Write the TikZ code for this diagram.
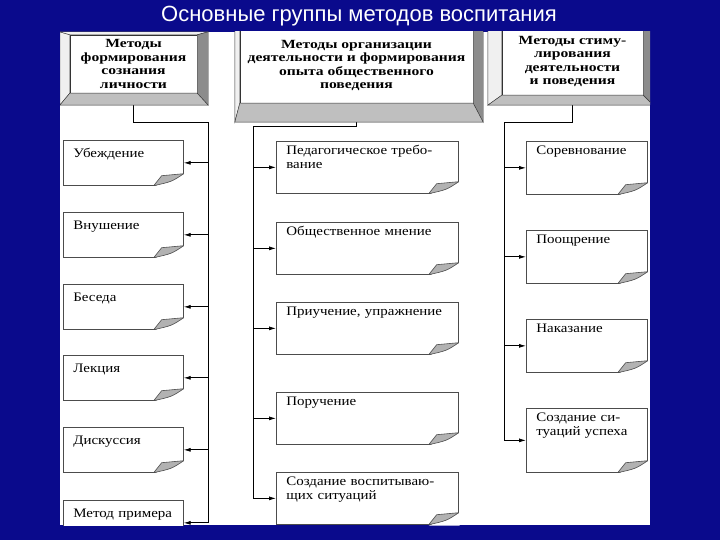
\documentclass[tikz,border=0pt]{standalone}
\usepackage{fontspec}
\setmainfont{Liberation Serif}
\newfontfamily\boxfont[FakeStretch=1.15]{Liberation Serif}
\newfontfamily\hdrfont[FakeStretch=1.25]{Liberation Serif}
\newfontfamily\titlefont{Liberation Sans}
\usetikzlibrary{arrows.meta,calc}
\definecolor{slideblue}{RGB}{10,10,140}
\tikzstyle{hdr} = [rectangle, draw=black!80, fill=white, align=center, inner sep=0pt, font={\hdrfont\bfseries\fontsize{12.5}{13.4}\selectfont}]
\tikzstyle{note} = [rectangle, draw=black!70, line width=0.7pt, fill=white, anchor=north west, align=left, inner xsep=10pt, inner ysep=0pt, font={\boxfont\fontsize{13}{14.5}\selectfont}]
\tikzstyle{tut} = [style={line width=0.8pt}]
\tikzstyle{tuh} = [style={->,>={Latex[length=7pt,width=4pt]},style={line width=0.8pt}}]
\tikzstyle{flap} = [fill=black!30, draw=black!70, line width=0.6pt, line join=round]
% raised frame round a header: node, left, top, right, bottom
\newcommand{\bevel}[5]{%
  \filldraw[draw=black!80, fill=black!6] (#1.north west) -- ($(#1.north west)+(-#2,-#3)$) -- ($(#1.south west)+(-#2,#5)$) -- (#1.south west) -- cycle;
  \filldraw[draw=black!80, fill=black!6] (#1.north west) -- ($(#1.north west)+(-#2,-#3)$) -- ($(#1.north east)+(#4,-#3)$) -- (#1.north east) -- cycle;
  \filldraw[draw=black!80, fill=black!45] (#1.north east) -- ($(#1.north east)+(#4,-#3)$) -- ($(#1.south east)+(#4,#5)$) -- (#1.south east) -- cycle;
  \filldraw[draw=black!80, fill=black!25] (#1.south west) -- ($(#1.south west)+(-#2,#5)$) -- ($(#1.south east)+(#4,#5)$) -- (#1.south east) -- cycle;}
% turned-up corner of a note
\newcommand{\curl}[1]{%
  \fill[white] ($(#1.south east)+(-30,1)$) -- ($(#1.south east)+(1,1)$) -- ($(#1.south east)+(1,-12)$) -- cycle;
  \filldraw[flap] ($(#1.south east)+(-30,0)$) -- ($(#1.south east)+(-22,-10)$) -- ($(#1.south east)+(0,-12)$) .. controls ($(#1.south east)+(-12,-4)$) .. cycle;}

\begin{document}
\begin{tikzpicture}[x=1pt,y=-1pt]
  \fill[slideblue] (0,0) rectangle (720,540);
  \node[font={\titlefont\fontsize{22}{25}\selectfont}, text=white] (title) at (359,16) {Основные группы методов воспитания};
  \fill[white] (60,32) rectangle (650,525);
  \begin{scope}
    \clip (60,32) rectangle (650,525);
    % headers
    \node[hdr, minimum width=127pt, minimum height=58pt] (hL) at (133.5,64) {Методы\\формирования\\сознания\\личности};
    \node[hdr, minimum width=233pt, minimum height=75pt] (hM) at (356.5,65.5) {Методы организации\\деятельности и формирования\\опыта общественного\\поведения};
    \node[hdr, minimum width=141pt, minimum height=67pt] (hR) at (572.5,61.5) {Методы стиму-\\лирования\\деятельности\\и поведения};
    % left column
    \node[note, text width=100pt, text height=17pt, text depth=28pt] (l1) at (63,140) {Убеждение};
    \node[note, text width=100pt, text height=17pt, text depth=28pt] (l2) at (63,212) {Внушение};
    \node[note, text width=100pt, text height=17pt, text depth=28pt] (l3) at (63,284) {Беседа};
    \node[note, text width=100pt, text height=17pt, text depth=28pt] (l4) at (63,355) {Лекция};
    \node[note, text width=100pt, text height=17pt, text depth=28pt] (l5) at (63,427) {Дискуссия};
    \node[note, text width=100pt, text height=17pt, text depth=28pt] (l6) at (63,500) {Метод примера};
    % middle column
    \node[note, text width=162pt, text height=13pt, text depth=39pt] (m1) at (276,141) {Педагогическое требо-\\вание};
    \node[note, text width=162pt, text height=13pt, text depth=39pt] (m2) at (276,222) {Общественное мнение};
    \node[note, text width=162pt, text height=13pt, text depth=39pt] (m3) at (276,302) {Приучение, упражнение};
    \node[note, text width=162pt, text height=13pt, text depth=39pt] (m4) at (276,392) {Поручение};
    \node[note, text width=162pt, text height=13pt, text depth=39pt] (m5) at (276,472) {Создание воспитываю-\\щих ситуаций};
    % right column
    \node[note, text width=101pt, text height=13pt, text depth=40pt] (r1) at (526,141) {Соревнование};
    \node[note, text width=101pt, text height=13pt, text depth=40pt] (r2) at (526,230) {Поощрение};
    \node[note, text width=101pt, text height=13pt, text depth=40pt] (r3) at (526,319) {Наказание};
    \node[note, text width=101pt, text height=13pt, text depth=51pt] (r4) at (526,408) {Создание си-\\туаций успеха};
    \coordinate (busL) at (208,122);
    \coordinate (busM) at (253,126);
    \coordinate (busR) at (504,122);
    \draw[tut] (hL.south) |- (busL) -- (busL |- l6);
    \draw[tut] (hM.south) |- (busM) -- (busM |- m5);
    \draw[tut] (hR.south) |- (busR) -- (busR |- r4);
    \draw[tuh] (busL |- l1) -- (l1);
    \draw[tuh] (busL |- l2) -- (l2);
    \draw[tuh] (busL |- l3) -- (l3);
    \draw[tuh] (busL |- l4) -- (l4);
    \draw[tuh] (busL |- l5) -- (l5);
    \draw[tuh] (busL |- l6) -- (l6);
    \draw[tuh] (busM |- m1) -- (m1);
    \draw[tuh] (busM |- m2) -- (m2);
    \draw[tuh] (busM |- m3) -- (m3);
    \draw[tuh] (busM |- m4) -- (m4);
    \draw[tuh] (busM |- m5) -- (m5);
    \draw[tuh] (busR |- r1) -- (r1);
    \draw[tuh] (busR |- r2) -- (r2);
    \draw[tuh] (busR |- r3) -- (r3);
    \draw[tuh] (busR |- r4) -- (r4);
    \bevel{hL}{10}{3}{11}{12}
    \bevel{hM}{5}{3}{10}{19}
    \bevel{hR}{14}{3}{10}{10}
    \curl{l1}\curl{l2}\curl{l3}\curl{l4}\curl{l5}\curl{l6}
    \curl{m1}\curl{m2}\curl{m3}\curl{m4}\curl{m5}
    \curl{r1}\curl{r2}\curl{r3}\curl{r4}
  \end{scope}
\end{tikzpicture}
\end{document}
